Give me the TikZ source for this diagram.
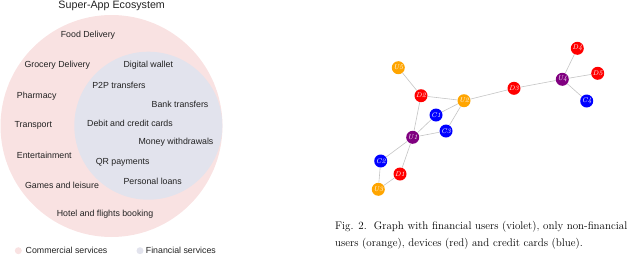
\documentclass[tikz,border=0pt]{standalone}
\usepackage{fontspec}
\usepackage{xcolor}
\usepackage{tikz}
\usetikzlibrary{positioning, calc}
\newfontfamily\vennfont{Liberation Sans}
\definecolor{commpink}{HTML}{F9E2E2}
\definecolor{finblue}{HTML}{E2E3ED}
\definecolor{finviolet}{HTML}{800080}
\definecolor{nfuser}{HTML}{FFA500}
\definecolor{devred}{HTML}{FF0000}
\definecolor{cardblue}{HTML}{0000FF}
\definecolor{edgegray}{HTML}{C4C4C4}
\definecolor{txtgray}{HTML}{222222}
\tikzset{
  svc/.style    = {inner sep=0pt, text=txtgray,
                   font=\vennfont\fontsize{8.8}{9}\selectfont},
  vertex/.style = {circle, inner sep=0pt, minimum size=13pt, text=white,
                   font=\fontsize{6.8}{6.8}\selectfont\itshape},
  finuser/.style = {vertex, fill=finviolet},
  nonfin/.style = {vertex, fill=nfuser},
  device/.style = {vertex, fill=devred},
  card/.style   = {vertex, fill=cardblue},
  link/.style   = {draw=edgegray, line width=0.6pt},
  dot/.style    = {circle, inner sep=0pt, minimum size=7pt},
}

\begin{document}
\begin{tikzpicture}[x=1pt, y=-1pt]
  \useasboundingbox (0,0) rectangle (640,255);

  % venn circles
  \fill[commpink] (111.5,126) circle (111);
  \fill[finblue] (148.3,125.7) circle (74);

  \node[svc, font=\vennfont\fontsize{10.7}{11}\selectfont] (title) at (111.7,6) {Super-App Ecosystem};
  \node[svc] (food) at (88,35.7) {Food Delivery};
  \node[svc] (groc) at (57.3,65.7) {Grocery Delivery};
  \node[svc] (wallet) at (148.3,65.7) {Digital wallet};
  \node[svc] (ptp) at (119,85) {P2P transfers};
  \node[svc] (pharm) at (36.7,96) {Pharmacy};
  \node[svc] (bank) at (180,104.3) {Bank transfers};
  \node[svc] (trans) at (33.3,125.3) {Transport};
  \node[svc] (cards) at (130,123.3) {Debit and credit cards};
  \node[svc] (money) at (176,142.7) {Money withdrawals};
  \node[svc] (ent) at (44.3,155) {Entertainment};
  \node[svc] (qr) at (122.7,162) {QR payments};
  \node[svc] (games) at (62,185) {Games and leisure};
  \node[svc] (loans) at (152.7,181) {Personal loans};
  \node[svc] (hotel) at (105,214.3) {Hotel and flights booking};

  % legend
  \node[dot, fill=commpink] (commdot) at (18.3,250.7) {};
  \node[svc, anchor=west, right=3.5pt of commdot] (commlbl) {Commercial services};
  \node[dot, fill=finblue] (findot) at (140,250.7) {};
  \node[svc, anchor=west, right=2pt of findot] (finlbl) {Financial services};

  % graph
  \node[nonfin] (U5) at (398.3,67.7) {U5};
  \node[device] (D2) at (421,95.7) {D2};
  \node[nonfin] (U2) at (464,100.7) {U2};
  \node[device] (D3) at (514,88.3) {D3};
  \node[finuser] (U4) at (562.3,79.3) {U4};
  \node[device] (D4) at (577.3,48.3) {D4};
  \node[device] (D5) at (597.7,73.3) {D5};
  \node[card] (C4) at (586.7,101) {C4};
  \node[card] (C1) at (436,115) {C1};
  \node[card] (C3) at (446,131) {C3};
  \node[finuser] (U1) at (412.7,137.3) {U1};
  \node[card] (C2) at (380.7,161) {C2};
  \node[device] (D1) at (400,174) {D1};
  \node[nonfin] (U3) at (378.3,189.3) {U3};

  \foreach \a/\b in {U5/D2, D2/U2, D2/U1, U2/C1, U2/C3, U2/D3, D3/U4,
                     U4/D4, U4/D5, U4/C4, C1/U1, C3/U1, U1/C2, U1/D1,
                     C2/U3, D1/U3}
    \draw[link] (\a) -- (\b);

  % caption
  \node[anchor=west, align=left, inner sep=0pt,
        font=\fontsize{11}{16.5}\selectfont] (cap) at (335,235)
    {Fig. 2.\ \ Graph with financial users (violet), only non-financial\\
     users (orange), devices (red) and credit cards (blue).};
\end{tikzpicture}
\end{document}
